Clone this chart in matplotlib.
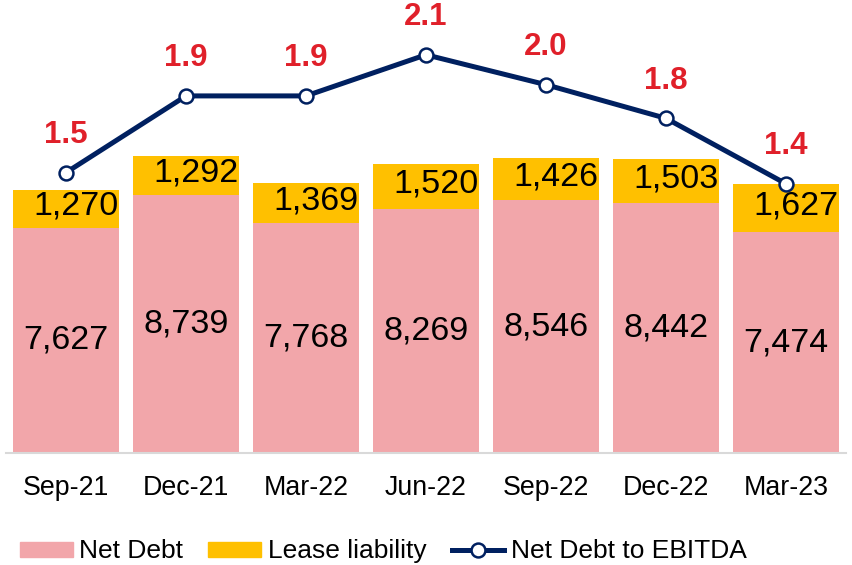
import matplotlib.pyplot as plt
from matplotlib.lines import Line2D
from matplotlib.patches import Patch

plt.rcParams['font.family'] = ['Liberation Sans', 'DejaVu Sans']

quarters = ['Sep-21', 'Dec-21', 'Mar-22', 'Jun-22', 'Sep-22', 'Dec-22', 'Mar-23']
net_debt = [7627, 8739, 7768, 8269, 8546, 8442, 7474]
lease = [1270, 1292, 1369, 1520, 1426, 1503, 1627]
ratio = [1.50, 1.91, 1.91, 2.13, 1.97, 1.79, 1.44]

pink = '#F2A6AA'
gold = '#FFC000'
navy = '#002060'
red = '#E0202A'

fig = plt.figure(figsize=(8.52, 5.65), dpi=100)
ax = fig.add_axes([6 / 852, 0.1982, 840 / 852, 0.7664])
x = list(range(len(quarters)))

ax.bar(x, net_debt, width=0.88, color=pink, zorder=2)
ax.bar(x, lease, width=0.88, bottom=net_debt, color=gold, zorder=2)

for i in x:
    ax.text(i, net_debt[i] / 2, f'{net_debt[i]:,}', ha='center', va='center',
            fontsize=24.5, color='black', zorder=3)
    ax.text(i + 0.08, net_debt[i] + lease[i] / 2 + 80, f'{lease[i]:,}', ha='center',
            va='center', fontsize=24.5, color='black', zorder=3)

ax.set_xlim(-0.5, 6.5)
ax.set_ylim(0, 14648)
ax.set_xticks(x)
ax.set_xticklabels(quarters, fontsize=19.3)
ax.tick_params(axis='x', length=0, pad=16)
ax.set_yticks([])
for s in ['top', 'right', 'left']:
    ax.spines[s].set_visible(False)
ax.spines['bottom'].set_color('#D9D9D9')
ax.spines['bottom'].set_linewidth(1.5)

ax2 = ax.twinx()
ax2.plot(x, ratio, color=navy, linewidth=3.6, marker='o', markersize=10,
         markerfacecolor='white', markeredgecolor=navy, markeredgewidth=1.8, zorder=4)
for i in x:
    ax2.annotate(f'{ratio[i]:.1f}', (i, ratio[i]), xytext=(0, 27), textcoords='offset points',
                 ha='center', va='center', fontsize=22.5, fontweight='bold', color=red)
ax2.set_ylim(0, 2.316)
ax2.set_yticks([])
for s in ['top', 'right', 'left', 'bottom']:
    ax2.spines[s].set_visible(False)

handles = [Patch(color=pink, label='Net Debt'),
           Patch(color=gold, label='Lease liability'),
           Line2D([], [], color=navy, linewidth=3.6, marker='o', markersize=10,
                  markerfacecolor='white', markeredgecolor=navy, markeredgewidth=1.8,
                  label='Net Debt to EBITDA')]
fig.legend(handles=handles, loc='center', bbox_to_anchor=(0.45, 0.024), ncol=3,
           frameon=False, fontsize=19, handlelength=2.0, handleheight=0.5,
           columnspacing=0.95, handletextpad=0.25)

fig.savefig('out.png', dpi=100)
